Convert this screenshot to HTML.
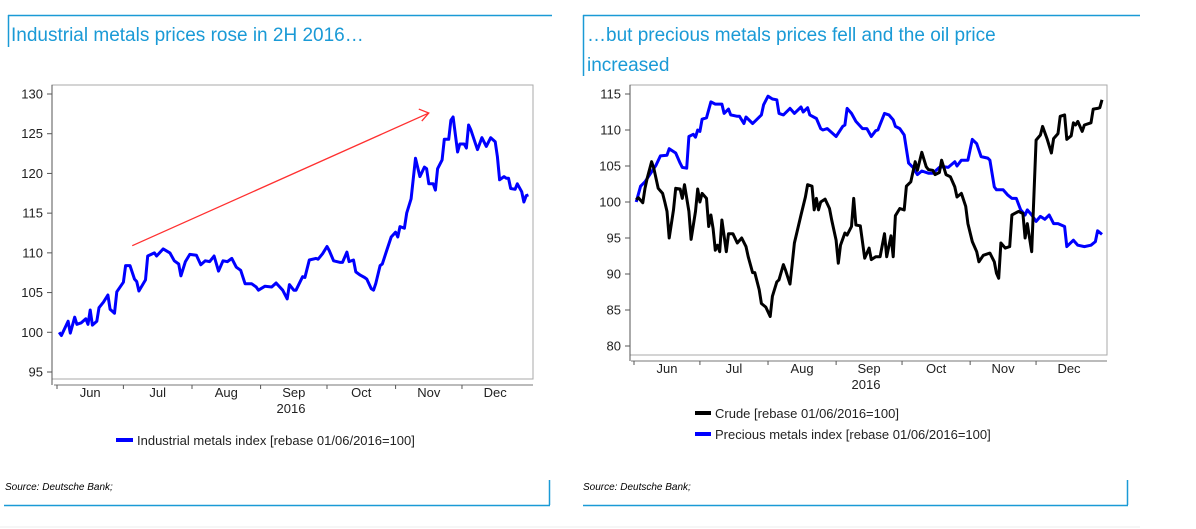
<!DOCTYPE html>
<html><head><meta charset="utf-8">
<style>
body{margin:0;background:#fff;width:1196px;height:529px;overflow:hidden;position:relative;font-family:"Liberation Sans",Arial,sans-serif}
svg{position:absolute;left:0;top:0}
</style></head>
<body>
<svg id="svg" width="1196" height="529" viewBox="0 0 1196 529">
<g>
<line x1="8" y1="15.5" x2="552" y2="15.5" stroke="#1a9ad6" stroke-width="1.5"/>
<line x1="8.5" y1="15" x2="8.5" y2="47" stroke="#1a9ad6" stroke-width="1.5"/>
<text x="11" y="41" font-size="19" fill="#1a9ad6">Industrial metals prices rose in 2H 2016…</text>
<line x1="549.5" y1="480" x2="549.5" y2="505" stroke="#1a9ad6" stroke-width="1.5"/>
<line x1="4" y1="505.5" x2="550" y2="505.5" stroke="#1a9ad6" stroke-width="1.5"/>
<text x="5" y="490" font-size="10" font-style="italic" fill="#000">Source: Deutsche Bank;</text>
</g>
<g>
<line x1="583" y1="15.5" x2="1140" y2="15.5" stroke="#1a9ad6" stroke-width="1.5"/>
<line x1="583.5" y1="15" x2="583.5" y2="76" stroke="#1a9ad6" stroke-width="1.5"/>
<text x="587" y="41" font-size="19" fill="#1a9ad6">…but precious metals prices fell and the oil price</text>
<text x="587" y="71" font-size="19" fill="#1a9ad6">increased</text>
<line x1="1127.5" y1="480" x2="1127.5" y2="505" stroke="#1a9ad6" stroke-width="1.5"/>
<line x1="583" y1="505.5" x2="1128" y2="505.5" stroke="#1a9ad6" stroke-width="1.5"/>
<text x="583" y="490" font-size="10" font-style="italic" fill="#000">Source: Deutsche Bank;</text>
</g>
<line x1="0" y1="527" x2="1140" y2="527" stroke="#eee" stroke-width="1"/>
<g id="left"></g>
<g id="right"></g>
</svg>
<script>
// day index from 1 Jun 2016
const monthLabels=["Jun","Jul","Aug","Sep","Oct","Nov","Dec"];
const monthStarts=[0,30,61,92,122,153,183];
const indDays=[1,2,5,6,8,9,11,13,14,15,16,18,19,21,23,24,26,27,30,31,33,35,36,37,40,41,44,45,48,51,53,55,56,58,60,63,65,67,69,71,73,75,77,79,81,83,85,88,90,91,94,97,99,102,104,105,107,108,111,112,114,117,118,120,122,123,125,128,129,131,132,134,135,137,139,140,142,143,144,146,147,149,151,153,154,155,157,158,160,162,164,166,167,168,170,171,172,174,175,177,178,179,181,182,184,185,186,187,189,190,192,194,196,198,199,200,202,203,204,205,207,208,210,211,212,213];
const indVals=[100,99.6,101.4,99.9,101.9,101,101.2,101.7,101,102.8,100.9,101.4,103.1,103.8,104.7,102.9,102.4,105.1,106.3,108.4,108.4,106.7,106.4,105.2,106.6,109.6,110,109.6,110.5,110,109,108.6,107.1,108.9,109.8,109.7,108.5,109,108.9,109.6,107.7,109,108.9,109.3,108.2,107.8,106.1,106.1,105.7,105.3,105.8,105.7,106.2,105.3,104.2,106,105.3,105.3,107,106.9,109.1,109.3,109.2,109.9,110.8,110.3,109,108.8,108.8,110.1,108.9,109.1,107.6,107.2,106.9,106.7,105.5,105.3,106.1,108.4,108.6,110.3,112,112.6,112,113.3,113.1,115,116.8,121.9,119.6,120.8,120.6,118.7,118.7,117.9,120.6,121.7,124.3,124.3,126.7,127.1,122.7,123.7,123.7,123.2,126.1,125.5,123.8,123,124.5,123.4,124.5,124,122.1,119.2,119.6,119.4,119.4,118.1,118,118.7,117.7,116.4,117.2,117.3];
const leftTicks=[95,100,105,110,115,120,125,130];
const arrowFrom=[34,110.9], arrowTo=[168,127.6];

const preDays=[1,3,5,8,10,12,15,16,19,21,22,24,25,27,28,29,30,31,33,35,37,39,40,41,43,44,47,48,50,51,54,55,58,59,61,63,65,66,68,71,73,76,77,79,80,83,85,86,88,92,95,96,97,99,101,104,106,108,110,111,114,116,118,119,121,123,125,127,129,131,134,136,139,141,143,146,147,149,152,154,156,158,161,162,164,165,168,170,172,174,176,178,179,181,183,185,187,189,191,193,196,197,200,202,205,208,210,211,213];
const preVals=[100,102.2,102.8,104.2,105.1,106.4,106.5,107.4,106.8,105.4,104.8,104.7,109.1,109.4,109,110,109.8,111.5,111.7,113.9,113.6,113.6,113.6,112.3,112.9,112.1,111.9,111.9,110.9,111.8,110.9,111.2,112.1,113.5,114.7,114.3,114.2,112.3,112.1,113,112.3,113.2,112.5,113.1,112.1,111.6,110.2,110,110.2,109.1,110.5,110.7,113,112.3,111.2,110.2,110.2,109.1,109.9,110,112.3,112.1,111.4,110.5,110.2,109.3,105.4,104.8,103.8,104.3,104,104,104.8,104.9,104.8,105.6,105,105.8,105.8,108.7,108.1,106.3,106.1,105.8,102.1,101.7,101.7,101,100.5,100.5,98.9,98.2,98.9,98.2,97.3,98,97.6,98.2,97,97,96.6,93.8,94.7,94,93.8,94,94.5,96,95.5];
const crDays=[1,2,4,5,6,8,9,11,13,14,15,16,18,19,21,22,23,25,26,28,29,30,31,33,34,35,36,37,38,39,40,42,43,45,47,49,51,52,54,55,57,58,60,62,63,65,66,68,69,71,72,73,76,78,79,81,82,83,84,85,87,89,90,92,93,94,96,97,99,100,101,103,105,107,108,110,112,114,115,117,118,119,121,123,124,126,128,129,131,133,134,136,137,139,140,142,144,146,147,149,151,152,154,156,157,159,161,162,164,165,166,167,169,171,172,175,177,178,179,181,183,185,186,188,190,191,193,194,196,197,199,200,201,202,204,205,208,209,211,212,213];
const crVals=[100.3,100.6,99.9,101.9,103.3,105.6,104.7,101.9,101.2,100,98.7,95,98.9,101.9,101.8,100.5,102.4,98.7,94.8,98.7,101.8,100,101.2,100.5,96.6,98.2,96.3,93.3,94,93.1,97.5,93.1,95.6,95.6,94.3,95,93.8,92.4,90.2,90.2,87.8,85.9,85.4,84.1,86.9,88.9,89.2,91.3,90.5,88.6,91.4,94.3,98.2,100.7,102.4,102.2,98.9,100.5,98.9,100,100.4,99.1,97.5,94.7,91.5,94,95.7,95.4,96.6,100.5,96.8,96.7,92.2,93.6,92,92.4,92.4,95.6,92.4,95.3,92.4,98.1,99.1,98.9,102.2,102.8,105.6,104.4,106.9,104.9,104.5,104.4,103.8,104.1,105.8,103.8,103.5,102.1,100.7,101.2,99.4,97,94.5,93.1,91.7,92.6,92.8,92.9,91.7,90.1,89.4,94.3,93.6,93.8,98.2,98.7,98.4,95,97,93.1,108.6,109.3,110.5,108.8,106.8,108.8,109.5,111.9,112.1,108.7,109.2,111,110.7,111.2,109.8,110.7,111,112.9,113,113.1,114.2];
const rightTicks=[80,85,90,95,100,105,110,115];

const NS="http://www.w3.org/2000/svg";
function mk(parent,tag,attrs){const e=document.createElementNS(NS,tag);for(const k in attrs)e.setAttribute(k,attrs[k]);parent.appendChild(e);return e;}

function drawPanel(g,box,ticks,yearX,prefix){
  const xS=d=>box.x0day+(d)*box.pxDay;
  const yS=v=>box.yAt(v);
  const frame=mk(g,'rect',{x:box.l,y:box.t,width:box.r-box.l,height:box.b-box.t,fill:'none',stroke:'#aaa','stroke-width':1});
  
  
  ticks.forEach(t=>{
    const y=yS(t);
    const tl=mk(g,'line',{x1:box.l-5,x2:box.l,y1:y,y2:y,stroke:'#555'});
    
    
    const tx=mk(g,'text',{x:box.l-9,y:y+4.5,'font-size':13,'text-anchor':'end',fill:'#222'});
    tx.textContent=t;
    
    
  });
  const ax=mk(g,'line',{x1:box.l,x2:box.l,y1:box.t,y2:box.b+6,stroke:'#555'});
  
  
  const xa=mk(g,'line',{x1:xS(0)-3,x2:box.r,y1:box.b+6,y2:box.b+6,stroke:'#777'});
  
  
  monthStarts.forEach((m,i)=>{
    const x=xS(m);
    const tk=mk(g,'line',{x1:x,x2:x,y1:box.b+6,y2:box.b+10,stroke:'#555'});
    
    
    const next=i<monthStarts.length-1?monthStarts[i+1]:213;
    const lx=xS((m+next)/2);
    const tx=mk(g,'text',{x:lx,y:box.b+18,'font-size':13,'text-anchor':'middle',fill:'#222'});
    tx.textContent=monthLabels[i];
    
    
  });
  const yr=mk(g,'text',{x:yearX,y:box.b+34,'font-size':13,'text-anchor':'middle',fill:'#222'});
  yr.textContent='2016';
  
  
  return {xS,yS};
}
function line(g,days,vals,s,color,name){
  const pts=days.map((d,i)=>s.xS(d).toFixed(1)+','+s.yS(vals[i]).toFixed(1)).join(' ');
  const p=mk(g,'polyline',{points:pts,fill:'none',stroke:color,'stroke-width':3,'stroke-linejoin':'round'});
  
  
}

// Left
const L=document.getElementById('left');
const lbox={l:52,r:533,t:85,b:379,x0day:57,pxDay:2.213,yAt:v=>94+(130-v)*(278/35)};
const ls=drawPanel(L,lbox,leftTicks,291,'left');
line(L,indDays,indVals,ls,'#0000ff','industrial-metals-line');
const ar=mk(L,'line',{x1:ls.xS(arrowFrom[0]),y1:ls.yS(arrowFrom[1]),x2:ls.xS(arrowTo[0]),y2:ls.yS(arrowTo[1]),stroke:'#ff3030','stroke-width':1.3});


{
  const x2=ls.xS(arrowTo[0]),y2=ls.yS(arrowTo[1]);
  const ah=mk(L,'polyline',{points:(x2-10)+','+(y2-4)+' '+x2+','+y2+' '+(x2-7)+','+(y2+8),fill:'none',stroke:'#ff3030','stroke-width':1.3});
  
  
}
const lg1=mk(L,'line',{x1:116,x2:133,y1:440,y2:440,stroke:'#0000ff','stroke-width':4});


const lt1=mk(L,'text',{x:137,y:445,'font-size':13,fill:'#222'});
lt1.textContent='Industrial metals index [rebase 01/06/2016=100]';



// Right
const R=document.getElementById('right');
const rbox={l:630,r:1107,t:85,b:355,x0day:634,pxDay:2.197,yAt:v=>94+(115-v)*(252/35)};
const rs=drawPanel(R,rbox,rightTicks,866,'right');
line(R,preDays,preVals,rs,'#0000ff','precious-metals-line');
line(R,crDays,crVals,rs,'#000000','crude-line');
const lg2=mk(R,'line',{x1:695,x2:711,y1:413,y2:413,stroke:'#000','stroke-width':4});


const lt2=mk(R,'text',{x:715,y:418,'font-size':13,fill:'#222'});
lt2.textContent='Crude [rebase 01/06/2016=100]';


const lg3=mk(R,'line',{x1:695,x2:711,y1:434,y2:434,stroke:'#0000ff','stroke-width':4});


const lt3=mk(R,'text',{x:715,y:439,'font-size':13,fill:'#222'});
lt3.textContent='Precious metals index [rebase 01/06/2016=100]';


</script>
</body></html>
